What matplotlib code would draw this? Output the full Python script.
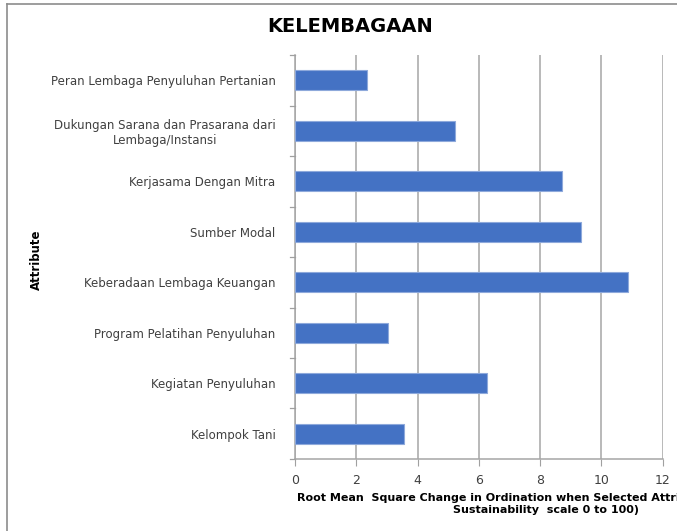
import matplotlib
matplotlib.use("Agg")
import matplotlib.pyplot as plt
from matplotlib.lines import Line2D

# Leverage attributes, listed top to bottom as in the chart
attributes = [
    "Peran Lembaga Penyuluhan Pertanian",
    "Dukungan Sarana dan Prasarana dari\nLembaga/Instansi",
    "Kerjasama Dengan Mitra",
    "Sumber Modal",
    "Keberadaan Lembaga Keuangan",
    "Program Pelatihan Penyuluhan",
    "Kegiatan Penyuluhan",
    "Kelompok Tani",
]
rms_change = [2.34, 5.22, 8.70, 9.32, 10.88, 3.05, 6.26, 3.57]
x_ticks = [0, 2, 4, 6, 8, 10, 12]

fig = plt.figure(figsize=(6.77, 5.31), dpi=100)
ax = fig.add_axes([0.4357, 0.1356, 0.979 - 0.4357, 0.8964 - 0.1356])

# plot in reverse so the first attribute ends up at the top
pos = list(range(len(attributes)))[::-1]
ax.barh(pos, rms_change, height=0.4, color="#4472C4", edgecolor="#8EA9DB",
        linewidth=0.8, zorder=3)

ax.set_xlim(0, 12)
ax.set_ylim(-0.5, len(attributes) - 0.5)
ax.set_xticks(x_ticks)
ax.set_xticklabels([str(t) for t in x_ticks], fontsize=9, color="#404040")
ax.set_yticks(pos)
ax.set_yticklabels(attributes, fontsize=8.5, color="#404040", ha="right",
                   multialignment="center")
ax.tick_params(axis="y", length=0, pad=14)
ax.tick_params(axis="x", length=5, color="#A0A0A0", pad=6)

# tick marks between categories on the left axis
for b in range(len(attributes) + 1):
    ax.plot([-0.17, 0], [b - 0.5, b - 0.5], color="#A0A0A0", lw=0.9,
            clip_on=False, zorder=4)

ax.grid(axis="x", color="#A6A6A6", linewidth=1.1, zorder=0)
for side in ["top", "right"]:
    ax.spines[side].set_visible(False)
ax.spines["left"].set_color("#A6A6A6")
ax.spines["bottom"].set_color("#A6A6A6")
ax.spines["left"].set_linewidth(1.1)
ax.spines["bottom"].set_linewidth(1.1)

fig.text(350 / 677, 1 - 27 / 531, "KELEMBAGAAN", fontsize=14, fontweight="bold",
         ha="center", va="center", color="black")
fig.text(36 / 677, 1 - 260 / 531, "Attribute", fontsize=8.5, fontweight="bold",
         rotation=90, ha="center", va="center", color="black")
fig.text(546 / 677, 1 - 504 / 531,
         "Root Mean  Square Change in Ordination when Selected Attribute Removed (on\n"
         "Sustainability  scale 0 to 100)",
         fontsize=8, fontweight="bold", ha="center", va="center",
         multialignment="center", color="black", linespacing=1.3)

# chart border (only left and top visible in the crop)
fig.add_artist(Line2D([7 / 677, 7 / 677], [0, 1 - 4 / 531], color="#8C8C8C",
                      lw=1.2, transform=fig.transFigure))
fig.add_artist(Line2D([7 / 677, 1], [1 - 4 / 531, 1 - 4 / 531], color="#8C8C8C",
                      lw=1.2, transform=fig.transFigure))

fig.savefig("out.png", dpi=100)
